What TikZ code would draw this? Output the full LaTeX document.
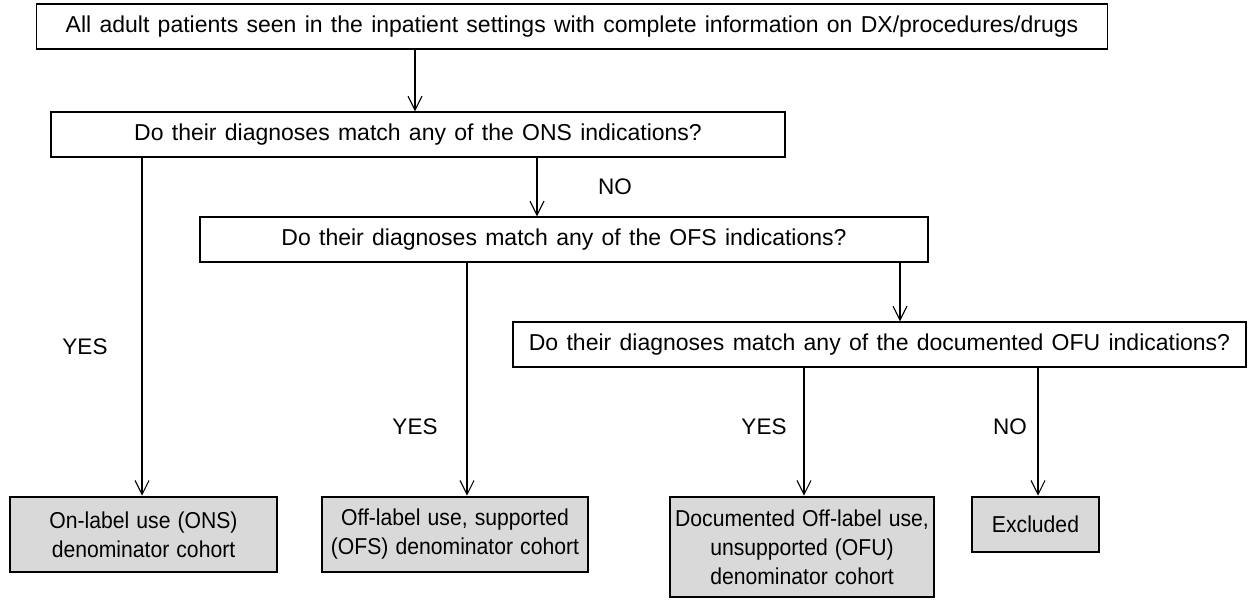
\documentclass[tikz,border=0pt]{standalone}
\usepackage{fontspec}
\setmainfont{Liberation Sans}
\newfontfamily\qfont[WordSpace=1.3]{Liberation Sans}
\newfontfamily\cfont[FakeStretch=0.92,WordSpace=1.2]{Liberation Sans}
\usetikzlibrary{arrows.meta}
\begin{document}
\begin{tikzpicture}[x=1pt,y=-1pt,
  every node/.style={inner sep=0pt},
  question/.style={draw, line width=1.3pt, minimum height=45pt, align=center,
    font=\qfont\fontsize{23}{29}\selectfont},
  cohort/.style={draw, line width=2.6pt, fill=black!15, align=center,
    font=\cfont\fontsize{23}{29}\selectfont},
  arr/.style={line width=1.1pt, -{Straight Barb[length=14pt,width=14pt,line width=1.1pt]}},
  answer/.style={font=\fontsize{22.5}{29}\selectfont}]
\useasboundingbox (0,0) rectangle (1252,600);

% decision boxes
\node[question, minimum width=1071pt] (all) at (572,26.5)
  {All adult patients seen in the inpatient settings with complete information on DX/procedures/drugs};
\node[question, minimum width=734pt] (ons) at (418,134.5)
  {Do their diagnoses match any of the ONS indications?};
\node[question, minimum width=728pt] (ofs) at (564,239.5)
  {Do their diagnoses match any of the OFS indications?};
\node[question, minimum width=733pt] (ofu) at (879.5,344.5)
  {Do their diagnoses match any of the documented OFU indications?};

% cohort boxes
\node[cohort, minimum width=267pt, minimum height=75pt] (onsc) at (143.5,534.5)
  {On-label use (ONS)\\denominator cohort};
\node[cohort, minimum width=266pt, minimum height=75pt] (ofsc) at (455,534.5)
  {Off-label use, supported\\(OFS) denominator cohort};
\node[cohort, minimum width=264pt, minimum height=100pt] (ofuc) at (802,547)
  {Documented Off-label use,\\unsupported (OFU)\\denominator cohort};
\node[cohort, minimum width=127pt, minimum height=55pt] (excl) at (1035.5,524.5)
  {Excluded};

% connectors
\draw[arr] (all.south -| 415,0) -- (ons.north -| 415,0);
\draw[arr] (ons.south -| 142,0) -- (onsc.north -| 142,0);
\draw[arr] (ons.south -| 537,0) -- (ofs.north -| 537,0);
\draw[arr] (ofs.south -| 467,0) -- (ofsc.north -| 467,0);
\draw[arr] (ofs.south -| 900,0) -- (ofu.north -| 900,0);
\draw[arr] (ofu.south -| 804,0) -- (ofuc.north -| 804,0);
\draw[arr] (ofu.south -| 1038,0) -- (excl.north -| 1038,0);

% branch labels
\node[answer] (y1) at (85,347) {YES};
\node[answer] (n1) at (615,187) {NO};
\node[answer] (y2) at (415,427) {YES};
\node[answer] (y3) at (764,427) {YES};
\node[answer] (n2) at (1010,427) {NO};
\end{tikzpicture}
\end{document}
